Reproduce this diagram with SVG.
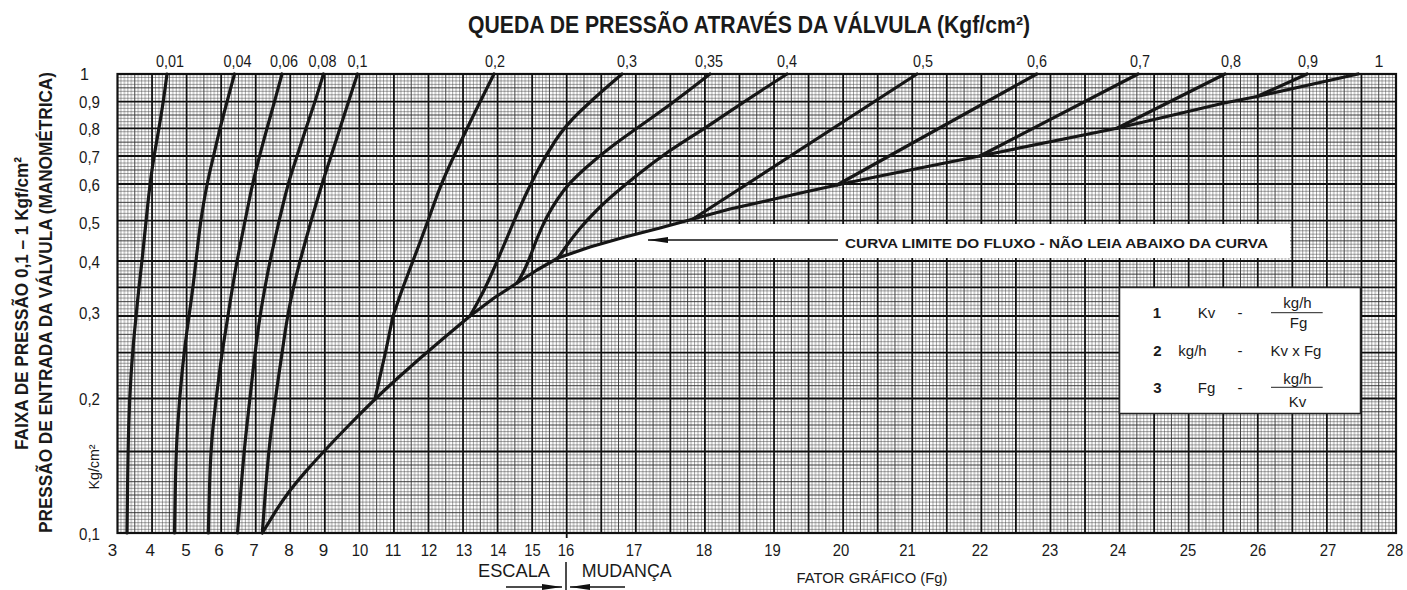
<svg xmlns="http://www.w3.org/2000/svg" width="1407" height="590" viewBox="0 0 1407 590">
<style>
text{font-family:"Liberation Sans",Arial,sans-serif;fill:#1a1a1a}
.tl{font-size:16px;text-anchor:middle}
.yl{font-size:16px;text-anchor:start}
.bl{font-size:17px;text-anchor:middle}
.b{font-weight:bold}
.lg{font-size:15px;text-anchor:middle}
.minor{stroke:#444;stroke-width:0.5;fill:none}
.med{stroke:#2a2a2a;stroke-width:0.9;fill:none}
.heavy{stroke:#111;stroke-width:1.8;fill:none}
.crv{stroke:#161616;stroke-width:3.2;fill:none;stroke-linejoin:round;stroke-linecap:round}
</style>
<defs>
<pattern id="vg" patternUnits="userSpaceOnUse" x="117.5" y="74" width="34.554" height="460">
<path class="minor" d="M3.455 0V460M6.911 0V460M10.366 0V460M13.822 0V460M20.732 0V460M24.188 0V460M27.643 0V460M31.099 0V460"/>
<path class="med" d="M17.277 0V460"/>
</pattern>
<marker id="ah" viewBox="0 0 20 6" refX="20" refY="3" markerWidth="20" markerHeight="6" markerUnits="userSpaceOnUse" orient="auto">
<path d="M0 0L20 3L0 6Z" fill="#111"/>
</marker>
</defs>
<rect width="1407" height="590" fill="#fff"/>

<text x="749" y="33" class="b" font-size="23" text-anchor="middle" textLength="562" lengthAdjust="spacingAndGlyphs">QUEDA DE PRESSÃO ATRAVÉS DA VÁLVULA (Kgf/cm²)</text>

<g id="grid">
<rect x="117.5" y="74" width="1278.5" height="459" fill="url(#vg)"/>
<path class="minor" d="M117.5 77.46H1396M117.5 80.93H1396M117.5 84.39H1396M117.5 91.31H1396M117.5 94.78H1396M117.5 98.24H1396
M117.5 105.03H1396M117.5 108.35H1396M117.5 111.68H1396M117.5 118.33H1396M117.5 121.65H1396M117.5 124.98H1396
M117.5 131.76H1396M117.5 135.23H1396M117.5 138.69H1396M117.5 145.61H1396M117.5 149.08H1396M117.5 152.54H1396
M117.5 159.5H1396M117.5 163H1396M117.5 166.5H1396M117.5 173.5H1396M117.5 177H1396M117.5 180.5H1396
M117.5 187.67H1396M117.5 191.34H1396M117.5 195.01H1396M117.5 198.68H1396M117.5 206.02H1396M117.5 209.69H1396M117.5 213.36H1396M117.5 217.03H1396
M117.5 224.06H1396M117.5 227.42H1396M117.5 230.78H1396M117.5 234.13H1396M117.5 237.49H1396M117.5 244.21H1396M117.5 247.57H1396M117.5 250.92H1396M117.5 254.28H1396M117.5 257.64H1396
M117.5 264.29H1396M117.5 267.58H1396M117.5 270.86H1396M117.5 277.44H1396M117.5 280.73H1396M117.5 284.01H1396
M117.5 290.89H1396M117.5 294.48H1396M117.5 298.06H1396M117.5 305.24H1396M117.5 308.83H1396M117.5 312.41H1396
M117.5 319.67H1396M117.5 323.34H1396M117.5 327.01H1396M117.5 330.68H1396M117.5 338.02H1396M117.5 341.69H1396M117.5 345.36H1396M117.5 349.03H1396
M117.5 356.35H1396M117.5 363.25H1396M117.5 366.5H1396M117.5 369.75H1396M117.5 376.18H1396M117.5 379.35H1396M117.5 382.53H1396M117.5 388.9H1396M117.5 392.1H1396M117.5 395.3H1396
M117.5 401.81H1396M117.5 405.13H1396M117.5 408.44H1396M117.5 415.06H1396M117.5 418.38H1396M117.5 421.69H1396M117.5 428.31H1396M117.5 431.63H1396M117.5 434.94H1396M117.5 441.56H1396M117.5 444.88H1396M117.5 448.19H1396
M117.5 454.88H1396M117.5 458.25H1396M117.5 461.63H1396M117.5 468.34H1396M117.5 471.68H1396M117.5 475.02H1396M117.5 478.36H1396M117.5 485.03H1396M117.5 488.35H1396M117.5 491.68H1396M117.5 498.54H1396M117.5 502.08H1396M117.5 505.62H1396M117.5 509.16H1396M117.5 516.03H1396M117.5 519.37H1396M117.5 522.7H1396M117.5 526.03H1396M117.5 529.37H1396"/>
<path class="med" d="M117.5 87.85H1396M117.5 115H1396M117.5 142.15H1396M117.5 170H1396M117.5 202.35H1396M117.5 240.85H1396M117.5 274.15H1396M117.5 301.65H1396M117.5 334.35H1396M117.5 360H1396M117.5 373H1396M117.5 385.7H1396M117.5 411.75H1396M117.5 425H1396M117.5 438.25H1396M117.5 465H1396M117.5 481.7H1396M117.5 495H1396M117.5 512.7H1396"/>
<path class="heavy" d="M117.5 101.7H1396M117.5 128.3H1396M117.5 156H1396M117.5 184H1396M117.5 220.7H1396M117.5 261H1396M117.5 287.3H1396M117.5 316H1396M117.5 352.7H1396M117.5 398.5H1396M117.5 451.5H1396
M152.05 74V533M186.61 74V533M221.16 74V533M255.72 74V533M290.27 74V533M324.82 74V533M359.38 74V533M393.93 74V533M428.49 74V533M463.04 74V533M497.59 74V533M532.15 74V533M566.7 74V538M601.26 74V533M635.81 74V533M670.36 74V533M704.92 74V533M739.47 74V533M774.03 74V533M808.58 74V533M843.13 74V533M877.69 74V533M912.24 74V533M946.8 74V533M981.35 74V533M1015.9 74V533M1050.46 74V533M1085.01 74V533M1119.57 74V533M1154.12 74V533M1188.67 74V533M1223.23 74V533M1257.78 74V533M1292.34 74V533M1326.89 74V533M1361.44 74V533"/>
<rect x="117.5" y="74" width="1278.5" height="459" fill="none" stroke="#111" stroke-width="2.2"/>
</g>

<g id="limit-note">
<polygon points="558,258 590,247 625,237 660,228 676,224 1290,224 1290,258" fill="#fff"/>
<line x1="838" y1="240" x2="648" y2="240" stroke="#111" stroke-width="1.5" marker-end="url(#ah)"/>
<text x="1056.5" y="248" class="b" font-size="13.5" text-anchor="middle" textLength="423" lengthAdjust="spacingAndGlyphs">CURVA LIMITE DO FLUXO  -  NÃO LEIA ABAIXO DA CURVA</text>
</g>

<g id="curves">
<path class="crv" d="M167 74L165.15 87.85Q163.3 101.7 161.15 115Q159 128.3 156.5 142.15Q154 156 152 170Q150 184 148 202.5Q146 221 144 241Q142 261 140.5 274Q139 287 137.5 301.5Q136 316 134.25 334.5Q132.5 353 131 376Q129.5 399 128.75 425Q128 451 127.5 492L127 533"/>
<path class="crv" d="M234.5 74L230.75 87.85Q227 101.7 223.5 115Q220 128.3 216.75 142.15Q213.5 156 210.25 170Q207 184 203.75 202.5Q200.5 221 198.25 241Q196 261 194.5 274Q193 287 191 301.5Q189 316 186.5 334.5Q184 353 181.75 376Q179.5 399 177.75 425Q176 451 175.25 492L174.5 533"/>
<path class="crv" d="M282 74L278.25 87.85Q274.5 101.7 270.75 115Q267 128.3 263.25 142.15Q259.5 156 256 170Q252.5 184 248.75 202.5Q245 221 241 241Q237 261 234.75 274Q232.5 287 230.25 301.5Q228 316 225 334.5Q222 353 219 376Q216 399 213.25 425Q210.5 451 209.4 492L208.3 533"/>
<path class="crv" d="M323.5 74L319.25 87.85Q315 101.7 310.5 115Q306 128.3 301.5 142.15Q297 156 292.5 170Q288 184 283.5 202.5Q279 221 274.5 241Q270 261 267.5 274Q265 287 262.5 301.5Q260 316 257.5 334.5Q255 353 252.5 375.5Q250 398 247 424.5Q244 451 240.75 492L237.5 533"/>
<path class="crv" d="M357.5 74L353 87.85Q348.5 101.7 344.25 115Q340 128.3 335.5 142.15Q331 156 326.5 170Q322 184 316.5 202.5Q311 221 305.5 241Q300 261 296.75 274Q293.5 287 290.5 301.5Q287.5 316 284.75 334.5Q282 353 278.75 375.5Q275.5 398 272 424.5Q268.5 451 265.4 492L262.3 533"/>
<path class="crv" d="M494 74L485.5 91Q477 108 468.5 125.5Q460 143 450.5 163.5Q441 184 434.5 202.5Q428 221 420.5 241Q413 261 408 274Q403 287 398 301.5L393 316L386 350L379 381L375 398.5"/>
<path class="crv" d="M622 74L607.5 86.5Q593 99 579 112.5Q565 126 555.5 140.5Q546 155 538 170Q530 185 523.5 199.5Q517 214 511.5 227Q506 240 501 252Q496 264 490 277.5Q484 291 477 303.5L470 316"/>
<path class="crv" d="M710 74L690 89.5Q670 105 650 119Q630 133 615 144Q600 155 585 168.5Q570 182 563.35 191Q556.7 200 551.7 208.35Q546.7 216.7 541.85 227.35Q537 238 533 249Q529 260 525.5 267.5Q522 275 519.5 279L517 283"/>
<path class="crv" d="M787 74L766 87.5Q745 101 725 114.65Q705 128.3 687.5 139.15Q670 150 653.5 162.5Q637 175 622 187.5Q607 200 597 210Q587 220 579.5 229Q572 238 565 248L558 258"/>
<path class="crv" d="M917 74L693 219"/>
<path class="crv" d="M1036.7 74L837 185"/>
<path class="crv" d="M1138 74L980 156"/>
<path class="crv" d="M1225 74L1117 128.3"/>
<path class="crv" d="M1307 74L1257 96.5"/>
<path class="crv" d="M262.3 533L274.65 512.85Q287 492.7 305.15 472.1Q323.3 451.5 349.15 425Q375 398.5 397.5 378.25Q420 358 445 337L470 316L494 298L517 283L537 270L558 258L590 247L625 237L660 228L693 219L730 209L770 200L805 192L837 185L880 176L930 166L980 156L1117 128.3L1223 103.3L1257 96.5L1358 74"/>
</g>

<g id="top-labels">
<text class="tl" x="170" y="66.5" textLength="28" lengthAdjust="spacingAndGlyphs">0,01</text>
<text class="tl" x="237.5" y="66.5" textLength="28" lengthAdjust="spacingAndGlyphs">0,04</text>
<text class="tl" x="284" y="66.5" textLength="28" lengthAdjust="spacingAndGlyphs">0,06</text>
<text class="tl" x="322.5" y="66.5" textLength="28" lengthAdjust="spacingAndGlyphs">0,08</text>
<text class="tl" x="357.5" y="66.5" textLength="20" lengthAdjust="spacingAndGlyphs">0,1</text>
<text class="tl" x="495" y="66.5" textLength="20" lengthAdjust="spacingAndGlyphs">0,2</text>
<text class="tl" x="627" y="66.5" textLength="20" lengthAdjust="spacingAndGlyphs">0,3</text>
<text class="tl" x="709" y="66.5" textLength="28" lengthAdjust="spacingAndGlyphs">0,35</text>
<text class="tl" x="787" y="66.5" textLength="20" lengthAdjust="spacingAndGlyphs">0,4</text>
<text class="tl" x="923" y="66.5" textLength="20" lengthAdjust="spacingAndGlyphs">0,5</text>
<text class="tl" x="1037" y="66.5" textLength="20" lengthAdjust="spacingAndGlyphs">0,6</text>
<text class="tl" x="1140" y="66.5" textLength="20" lengthAdjust="spacingAndGlyphs">0,7</text>
<text class="tl" x="1231" y="66.5" textLength="20" lengthAdjust="spacingAndGlyphs">0,8</text>
<text class="tl" x="1308" y="66.5" textLength="20" lengthAdjust="spacingAndGlyphs">0,9</text>
<text class="tl" x="1379" y="66.5">1</text>
</g>

<g id="y-labels">
<text class="yl" x="80" y="80">1</text>
<text class="yl" x="79" y="108" textLength="21" lengthAdjust="spacingAndGlyphs">0,9</text>
<text class="yl" x="79" y="135" textLength="21" lengthAdjust="spacingAndGlyphs">0,8</text>
<text class="yl" x="79" y="163" textLength="21" lengthAdjust="spacingAndGlyphs">0,7</text>
<text class="yl" x="79" y="191" textLength="21" lengthAdjust="spacingAndGlyphs">0,6</text>
<text class="yl" x="79" y="229" textLength="21" lengthAdjust="spacingAndGlyphs">0,5</text>
<text class="yl" x="79" y="268" textLength="21" lengthAdjust="spacingAndGlyphs">0,4</text>
<text class="yl" x="79" y="319" textLength="21" lengthAdjust="spacingAndGlyphs">0,3</text>
<text class="yl" x="79" y="405" textLength="21" lengthAdjust="spacingAndGlyphs">0,2</text>
<text class="yl" x="79" y="539.5" textLength="21" lengthAdjust="spacingAndGlyphs">0,1</text>
</g>

<g id="x-labels">
<text class="bl" x="112.5" y="556">3</text>
<text class="bl" x="150.3" y="556">4</text>
<text class="bl" x="186" y="556">5</text>
<text class="bl" x="219" y="556">6</text>
<text class="bl" x="254" y="556">7</text>
<text class="bl" x="289" y="556">8</text>
<text class="bl" x="323.5" y="556">9</text>
<text class="bl" x="360" y="556" textLength="16.5" lengthAdjust="spacingAndGlyphs">10</text>
<text class="bl" x="393" y="556" textLength="16.5" lengthAdjust="spacingAndGlyphs">11</text>
<text class="bl" x="429" y="556" textLength="16.5" lengthAdjust="spacingAndGlyphs">12</text>
<text class="bl" x="464" y="556" textLength="16.5" lengthAdjust="spacingAndGlyphs">13</text>
<text class="bl" x="498.3" y="556" textLength="16.5" lengthAdjust="spacingAndGlyphs">14</text>
<text class="bl" x="532.5" y="556" textLength="16.5" lengthAdjust="spacingAndGlyphs">15</text>
<text class="bl" x="566" y="556" textLength="16.5" lengthAdjust="spacingAndGlyphs">16</text>
<text class="bl" x="634" y="556" textLength="16.5" lengthAdjust="spacingAndGlyphs">17</text>
<text class="bl" x="704" y="556" textLength="16.5" lengthAdjust="spacingAndGlyphs">18</text>
<text class="bl" x="772.5" y="556" textLength="16.5" lengthAdjust="spacingAndGlyphs">19</text>
<text class="bl" x="841" y="556" textLength="16.5" lengthAdjust="spacingAndGlyphs">20</text>
<text class="bl" x="907.5" y="556" textLength="16.5" lengthAdjust="spacingAndGlyphs">21</text>
<text class="bl" x="980" y="556" textLength="16.5" lengthAdjust="spacingAndGlyphs">22</text>
<text class="bl" x="1050" y="556" textLength="16.5" lengthAdjust="spacingAndGlyphs">23</text>
<text class="bl" x="1118" y="556" textLength="16.5" lengthAdjust="spacingAndGlyphs">24</text>
<text class="bl" x="1188" y="556" textLength="16.5" lengthAdjust="spacingAndGlyphs">25</text>
<text class="bl" x="1258" y="556" textLength="16.5" lengthAdjust="spacingAndGlyphs">26</text>
<text class="bl" x="1328" y="556" textLength="16.5" lengthAdjust="spacingAndGlyphs">27</text>
<text class="bl" x="1395" y="556" textLength="16.5" lengthAdjust="spacingAndGlyphs">28</text>
</g>

<g id="scale-change">
<text x="514" y="577" font-size="18" text-anchor="middle" textLength="72" lengthAdjust="spacingAndGlyphs">ESCALA</text>
<text x="626.7" y="577" font-size="18" text-anchor="middle" textLength="90" lengthAdjust="spacingAndGlyphs">MUDANÇA</text>
<line x1="566" y1="562" x2="566" y2="590" stroke="#111" stroke-width="1.5"/>
<line x1="506" y1="587" x2="562" y2="587" stroke="#111" stroke-width="1.3" marker-end="url(#ah)"/>
<line x1="625" y1="587" x2="570" y2="587" stroke="#111" stroke-width="1.3" marker-end="url(#ah)"/>
</g>

<text x="872" y="583" font-size="15" text-anchor="middle" textLength="151" lengthAdjust="spacingAndGlyphs">FATOR GRÁFICO (Fg)</text>

<g id="y-titles">
<text transform="translate(27.5,303.5) rotate(-90)" class="b" font-size="19" text-anchor="middle" textLength="293" lengthAdjust="spacingAndGlyphs">FAIXA DE PRESSÃO 0,1 – 1 Kgf/cm²</text>
<text transform="translate(51.5,302.5) rotate(-90)" class="b" font-size="19" text-anchor="middle" textLength="461" lengthAdjust="spacingAndGlyphs">PRESSÃO DE ENTRADA DA VÁLVULA (MANOMÉTRICA)</text>
<text transform="translate(98.5,467) rotate(-90)" font-size="14" text-anchor="middle" textLength="45" lengthAdjust="spacingAndGlyphs">Kg/cm²</text>
</g>

<g id="legend">
<rect x="1119.5" y="287.5" width="241" height="126" fill="#fff" stroke="#222" stroke-width="1.5"/>
<text class="lg b" x="1157" y="318">1</text>
<text class="lg" x="1206.5" y="318">Kv</text>
<text class="lg" x="1240" y="318">-</text>
<text class="lg" x="1297.5" y="308">kg/h</text>
<line x1="1271" y1="312.7" x2="1322.7" y2="312.7" stroke="#222" stroke-width="1"/>
<text class="lg" x="1298.5" y="328">Fg</text>
<text class="lg b" x="1157.5" y="356">2</text>
<text class="lg" x="1192.5" y="356">kg/h</text>
<text class="lg" x="1240" y="356">-</text>
<text class="lg" x="1296" y="356">Kv x Fg</text>
<text class="lg b" x="1157.5" y="393">3</text>
<text class="lg" x="1206.5" y="393">Fg</text>
<text class="lg" x="1240" y="393">-</text>
<text class="lg" x="1297.5" y="384">kg/h</text>
<line x1="1271" y1="387.3" x2="1322.7" y2="387.3" stroke="#222" stroke-width="1"/>
<text class="lg" x="1297.5" y="406.5">Kv</text>
</g>
</svg>
